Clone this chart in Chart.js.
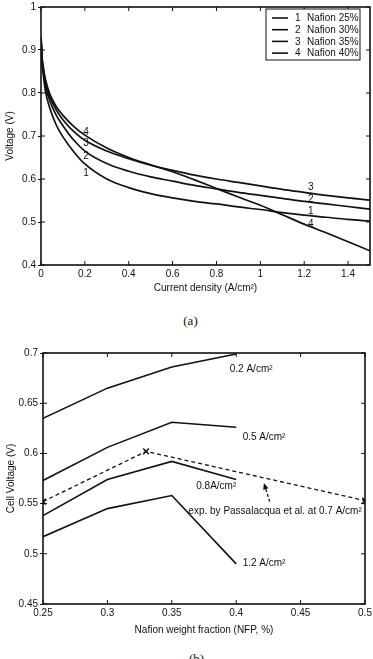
<!DOCTYPE html>
<html><head><meta charset="utf-8">
<script src="https://cdn.jsdelivr.net/npm/chart.js@4/dist/chart.umd.min.js"></script>
<style>
html,body{margin:0;padding:0;background:#fff;width:373px;height:659px;overflow:hidden;position:relative}
.w{position:absolute;left:0;width:373px}
#wa{top:0;height:300px}
#wb{top:330px;height:310px}
.cap{position:absolute;font-family:"Liberation Serif","Times New Roman",serif;font-size:13px;color:#111;width:373px;text-align:center}
</style></head><body>
<div id="wa" class="w"><canvas id="ca" width="373" height="300"></canvas></div>
<div class="cap" style="top:313px;left:4px">(a)</div>
<div id="wb" class="w"><canvas id="cb" width="373" height="310"></canvas></div>
<div class="cap" style="top:651px;left:10px">(b)</div>
<script>
// ---------- Chart (a) data ----------
const currentDensity = [0, 0.005, 0.01, 0.02, 0.04, 0.07, 0.1, 0.15, 0.2, 0.3, 0.4, 0.5, 0.6, 0.7, 0.8, 0.9, 1.0, 1.1, 1.2, 1.3, 1.4, 1.5];
const nafion25 = [0.93, 0.87, 0.845, 0.805, 0.765, 0.725, 0.698, 0.663, 0.635, 0.600, 0.580, 0.566, 0.556, 0.548, 0.542, 0.535, 0.529, 0.522, 0.516, 0.511, 0.506, 0.502];
const nafion30 = [0.93, 0.875, 0.852, 0.818, 0.782, 0.748, 0.724, 0.690, 0.665, 0.636, 0.618, 0.605, 0.595, 0.585, 0.577, 0.569, 0.562, 0.555, 0.548, 0.542, 0.536, 0.530];
const nafion35 = [0.93, 0.88, 0.858, 0.826, 0.792, 0.760, 0.738, 0.710, 0.690, 0.665, 0.647, 0.632, 0.620, 0.609, 0.600, 0.592, 0.584, 0.576, 0.569, 0.562, 0.556, 0.551];
const nafion40 = [0.93, 0.882, 0.862, 0.832, 0.798, 0.768, 0.748, 0.722, 0.702, 0.672, 0.650, 0.633, 0.617, 0.598, 0.578, 0.558, 0.539, 0.517, 0.495, 0.475, 0.454, 0.433];
const legendNamesA = ['Nafion 25%', 'Nafion 30%', 'Nafion 35%', 'Nafion 40%'];
const curveTagsA = ['1', '2', '3', '4'];
const tagLeftX = [0.205, 0.205, 0.205, 0.205];
const tagLeftY = [0.613, 0.653, 0.683, 0.708];
const tagRightX = [1.23, 1.23, 1.23, 1.23];
const tagRightY = [0.524, 0.553, 0.580, 0.495];
const xTicksA = [0, 0.2, 0.4, 0.6, 0.8, 1.0, 1.2, 1.4];
const yTicksA = [0.4, 0.5, 0.6, 0.7, 0.8, 0.9, 1.0];

// ---------- Chart (b) data ----------
const nafionFraction = [0.25, 0.3, 0.35, 0.4];
const at02 = [0.635, 0.665, 0.686, 0.699];
const at05 = [0.573, 0.606, 0.631, 0.626];
const at08 = [0.538, 0.574, 0.592, 0.574];
const at12 = [0.517, 0.545, 0.558, 0.490];
const expFraction = [0.25, 0.33, 0.5];
const expVoltage = [0.552, 0.602, 0.553];
const seriesNamesB = ['0.2 A/cm²', '0.5 A/cm²', '0.8A/cm²', '1.2 A/cm²'];
const seriesLabelX = [0.395, 0.405, 0.369, 0.405];
const seriesLabelY = [0.684, 0.616, 0.567, 0.491];
const expName = 'exp. by Passalacqua et al. at 0.7 A/cm²';
const expLabelX = 0.4975, expLabelY = 0.542;
const arrowFrom = [0.426, 0.552], arrowTo = [0.4215, 0.5705];
const xTicksB = [0.25, 0.3, 0.35, 0.4, 0.45, 0.5];
const yTicksB = [0.45, 0.5, 0.55, 0.6, 0.65, 0.7];

const FONT = '"Liberation Sans", Arial, sans-serif';
const INK = '#111';
Chart.defaults.font.family = FONT;
Chart.defaults.font.size = 10;
Chart.defaults.color = INK;
const fmt = v => String(Math.round(v * 100) / 100);
const pts = (xs, ys) => xs.map((x, i) => ({x, y: ys[i]}));

function frameTicks(chart) {
  const {ctx, chartArea: a, scales: {x, y}} = chart;
  ctx.save();
  ctx.strokeStyle = INK;
  ctx.lineWidth = 1.6;
  ctx.strokeRect(a.left, a.top, a.right - a.left, a.bottom - a.top);
  ctx.lineWidth = 1;
  ctx.beginPath();
  x.ticks.forEach(t => {
    const px = x.getPixelForValue(t.value);
    ctx.moveTo(px, a.bottom); ctx.lineTo(px, a.bottom - 4);
    ctx.moveTo(px, a.top); ctx.lineTo(px, a.top + 4);
  });
  y.ticks.forEach(t => {
    const py = y.getPixelForValue(t.value);
    ctx.moveTo(a.left, py); ctx.lineTo(a.left + 4, py);
    ctx.moveTo(a.right, py); ctx.lineTo(a.right - 4, py);
  });
  ctx.stroke();
  ctx.restore();
}

function axisX(ticks, min, max, title, h, pb) {
  return {
    type: 'linear', min, max,
    afterBuildTicks: s => { s.ticks = ticks.map(v => ({value: v})); },
    ticks: {callback: v => fmt(v), padding: 3, maxRotation: 0, autoSkip: false, color: INK},
    grid: {drawOnChartArea: false, drawTicks: false},
    border: {display: false},
    title: {display: true, text: title, color: INK, font: {size: 10}, padding: {top: 0, bottom: pb}},
    afterFit: s => { s.height = h; s.paddingLeft = 0; s.paddingRight = 0; }
  };
}
function axisY(ticks, min, max, title, w, pt) {
  return {
    type: 'linear', min, max,
    afterBuildTicks: s => { s.ticks = ticks.map(v => ({value: v})); },
    ticks: {callback: v => fmt(v), padding: 2, autoSkip: false, color: INK},
    grid: {drawOnChartArea: false, drawTicks: true, tickLength: 3, color: INK},
    border: {display: false},
    title: {display: true, text: title, color: INK, font: {size: 10}, padding: {top: pt, bottom: 0}},
    afterFit: s => { s.width = w; s.paddingTop = 0; s.paddingBottom = 0; }
  };
}

// ---------- Chart (a) ----------
const seriesA = [nafion25, nafion30, nafion35, nafion40];
new Chart(document.getElementById('ca'), {
  type: 'line',
  data: {
    datasets: seriesA.map((s, i) => ({
      label: legendNamesA[i], data: pts(currentDensity, s),
      borderColor: INK, borderWidth: 1.7, pointRadius: 0, fill: false,
      cubicInterpolationMode: 'monotone'
    }))
  },
  options: {
    responsive: false, animation: false, devicePixelRatio: 1,
    layout: {padding: {top: 7, right: 3, left: 0, bottom: 0}},
    plugins: {legend: {display: false}, tooltip: {enabled: false}},
    scales: {
      x: axisX(xTicksA, 0, 1.5, 'Current density (A/cm²)', 35, 6),
      y: axisY(yTicksA, 0.4, 1, 'Voltage (V)', 41, 4)
    }
  },
  plugins: [{
    id: 'decorA',
    afterDraw(chart) {
      frameTicks(chart);
      const {ctx, chartArea: a, scales: {x, y}} = chart;
      ctx.save();
      ctx.fillStyle = INK;
      ctx.font = '10px ' + FONT;
      ctx.textAlign = 'center'; ctx.textBaseline = 'middle';
      curveTagsA.forEach((t, i) => {
        ctx.fillText(t, x.getPixelForValue(tagLeftX[i]), y.getPixelForValue(tagLeftY[i]));
        ctx.fillText(t, x.getPixelForValue(tagRightX[i]), y.getPixelForValue(tagRightY[i]));
      });
      // legend box
      const bw = 94, bh = 51;
      const bx = a.right - 10 - bw, by = a.top + 2;
      ctx.fillStyle = '#fff';
      ctx.fillRect(bx, by, bw, bh);
      ctx.strokeStyle = INK; ctx.lineWidth = 1;
      ctx.strokeRect(bx, by, bw, bh);
      ctx.textAlign = 'left';
      chart.data.datasets.forEach((d, i) => {
        const ry = by + 9 + i * 11.7;
        ctx.lineWidth = 1.6;
        ctx.beginPath(); ctx.moveTo(bx + 6, ry); ctx.lineTo(bx + 22, ry); ctx.stroke();
        ctx.fillStyle = INK;
        ctx.fillText(curveTagsA[i], bx + 29, ry + 0.5);
        ctx.fillText(d.label, bx + 41, ry + 0.5);
      });
      ctx.restore();
    }
  }]
});

// ---------- Chart (b) ----------
const seriesB = [at02, at05, at08, at12];
const dsB = seriesB.map((s, i) => ({
  label: seriesNamesB[i], data: pts(nafionFraction, s),
  borderColor: INK, borderWidth: 1.6, pointRadius: 0, fill: false, tension: 0
}));
dsB.push({
  label: expName, data: pts(expFraction, expVoltage),
  borderColor: INK, borderWidth: 1.3, borderDash: [4, 3], fill: false, tension: 0,
  pointStyle: 'crossRot', pointRadius: 4, pointBorderWidth: 1.5, pointBorderColor: INK
});
new Chart(document.getElementById('cb'), {
  type: 'line',
  data: {datasets: dsB},
  options: {
    responsive: false, animation: false, devicePixelRatio: 1,
    layout: {padding: {top: 23, right: 8, left: 0, bottom: 0}},
    plugins: {legend: {display: false}, tooltip: {enabled: false}},
    scales: {
      x: axisX(xTicksB, 0.25, 0.5, 'Nafion weight fraction (NFP, %)', 36, 4),
      y: axisY(yTicksB, 0.45, 0.7, 'Cell Voltage (V)', 43, 5)
    }
  },
  plugins: [{
    id: 'decorB',
    afterDatasetsDraw(chart) {
      frameTicks(chart);
      const {ctx, scales: {x, y}} = chart;
      ctx.save();
      ctx.fillStyle = INK;
      ctx.font = '10px ' + FONT;
      ctx.textBaseline = 'middle'; ctx.textAlign = 'left';
      seriesNamesB.forEach((t, i) => {
        ctx.fillText(t, x.getPixelForValue(seriesLabelX[i]), y.getPixelForValue(seriesLabelY[i]));
      });
      ctx.textAlign = 'right';
      ctx.fillText(expName, x.getPixelForValue(expLabelX), y.getPixelForValue(expLabelY));
      // arrow
      const x0 = x.getPixelForValue(arrowFrom[0]), y0 = y.getPixelForValue(arrowFrom[1]);
      const x1 = x.getPixelForValue(arrowTo[0]), y1 = y.getPixelForValue(arrowTo[1]);
      const ang = Math.atan2(y1 - y0, x1 - x0);
      ctx.strokeStyle = INK; ctx.lineWidth = 1.3; ctx.setLineDash([3, 2]);
      ctx.beginPath(); ctx.moveTo(x0, y0);
      ctx.lineTo(x1 - 5 * Math.cos(ang), y1 - 5 * Math.sin(ang)); ctx.stroke();
      ctx.setLineDash([]);
      ctx.beginPath();
      ctx.moveTo(x1, y1);
      ctx.lineTo(x1 - 7 * Math.cos(ang - 0.4), y1 - 7 * Math.sin(ang - 0.4));
      ctx.lineTo(x1 - 7 * Math.cos(ang + 0.4), y1 - 7 * Math.sin(ang + 0.4));
      ctx.closePath(); ctx.fill();
      ctx.restore();
    }
  }]
});
</script>
</body></html>
